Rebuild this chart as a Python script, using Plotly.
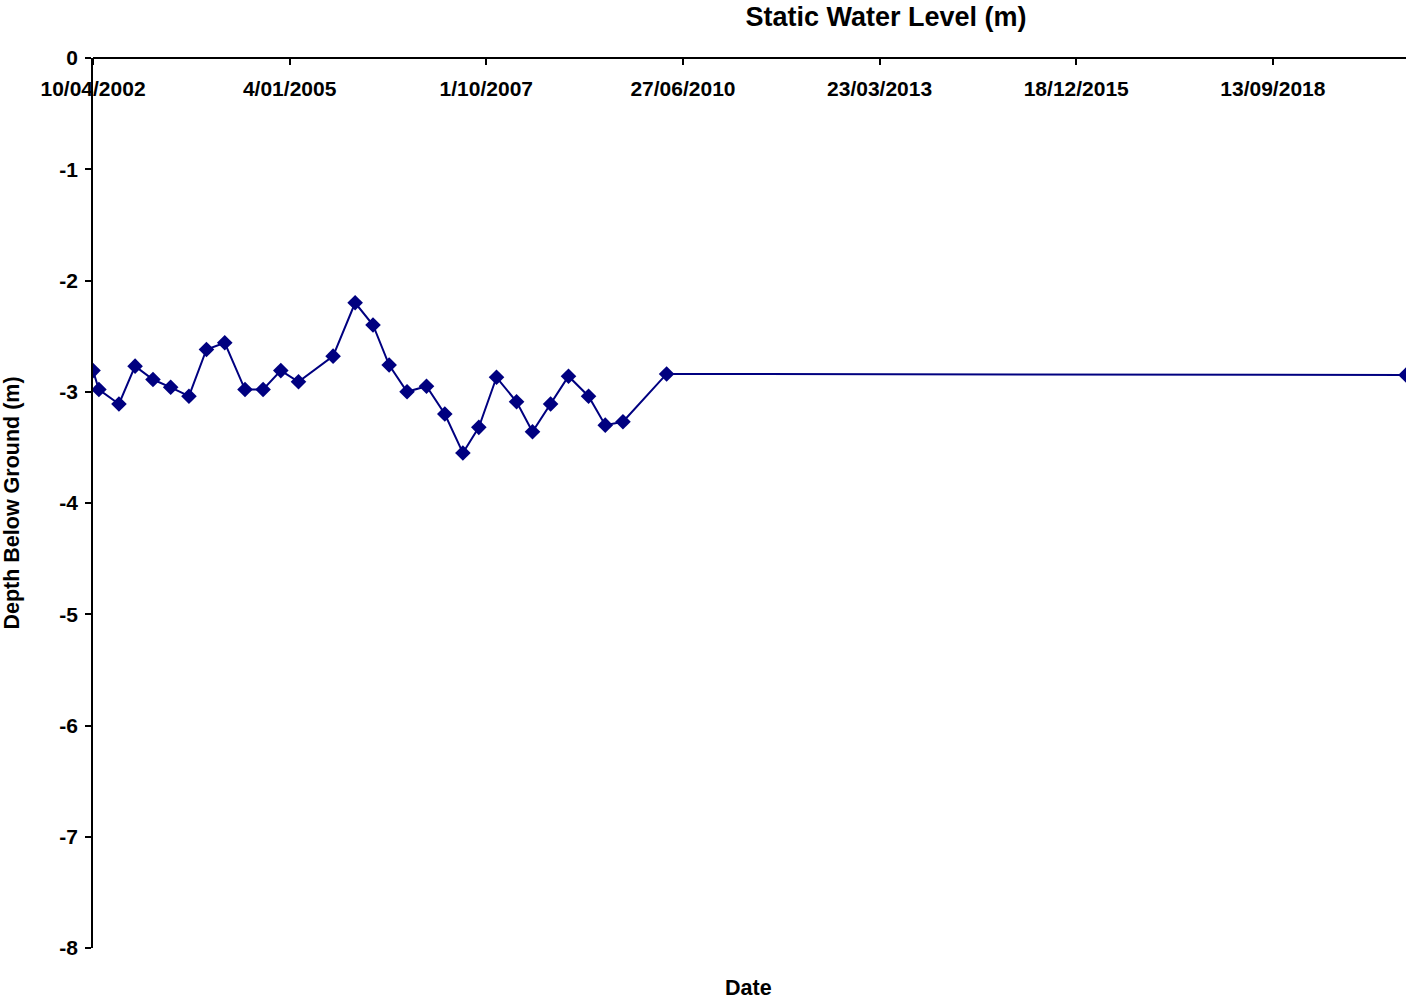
import plotly.graph_objects as go

dates = [
    "2002-04-10", "2002-05-10", "2002-08-20", "2002-11-10", "2003-02-09",
    "2003-05-10", "2003-08-11", "2003-11-08", "2004-02-09", "2004-05-22",
    "2004-08-22", "2004-11-20", "2005-02-18", "2005-08-13", "2005-12-03",
    "2006-03-04", "2006-05-25", "2006-08-24", "2006-12-01", "2007-03-04",
    "2007-06-04", "2007-08-24", "2007-11-22", "2008-03-03", "2008-05-23",
    "2008-08-23", "2008-11-22", "2009-03-04", "2009-05-28", "2009-08-26",
    "2010-04-05", "2020-07-21",
]
levels = [
    -2.81, -2.98, -3.11, -2.77, -2.89,
    -2.96, -3.04, -2.62, -2.56, -2.98,
    -2.98, -2.81, -2.91, -2.68, -2.20,
    -2.40, -2.76, -3.00, -2.95, -3.20,
    -3.55, -3.32, -2.87, -3.09, -3.36,
    -3.11, -2.86, -3.04, -3.30, -3.27,
    -2.84, -2.85,
]
tick_dates = ["2002-04-10", "2005-01-04", "2007-10-01", "2010-06-27",
              "2013-03-23", "2015-12-18", "2018-09-13"]
tick_labels = ["10/04/2002", "4/01/2005", "1/10/2007", "27/06/2010",
               "23/03/2013", "18/12/2015", "13/09/2018"]
y_ticks = [0, -1, -2, -3, -4, -5, -6, -7, -8]

FONT = "Arial, Liberation Sans, sans-serif"
NAVY = "#000080"

fig = go.Figure(go.Scatter(
    x=dates, y=levels, mode="lines+markers",
    line=dict(color=NAVY, width=2),
    marker=dict(symbol="diamond", size=12, color=NAVY),
))

fig.update_layout(
    width=1408, height=1002,
    margin=dict(l=93, r=2, t=58, b=54),
    paper_bgcolor="white", plot_bgcolor="white",
    showlegend=False,
    font=dict(family=FONT, color="black"),
    title=dict(text="<b>Static Water Level (m)</b>", x=886 / 1408, xanchor="center",
               yref="container", y=1 - 17 / 1002, yanchor="middle",
               font=dict(size=27, family=FONT)),
    xaxis=dict(
        type="date", side="bottom", anchor="free", position=1,
        range=[dates[0], dates[-1]],
        tickvals=tick_dates, ticktext=["<b>%s</b>" % t for t in tick_labels],
        ticks="outside", ticklen=6, tickcolor="black", tickwidth=1.5,
        ticklabelstandoff=6,
        tickfont=dict(size=21, family=FONT),
        showline=True, linecolor="black", linewidth=1.5,
        showgrid=False, zeroline=False, automargin=False,
    ),
    yaxis=dict(
        range=[-8, 0], tickvals=y_ticks,
        ticktext=["<b>%d</b>" % v for v in y_ticks],
        ticks="outside", ticklen=6, tickcolor="black", tickwidth=1.5,
        ticklabelstandoff=3,
        tickfont=dict(size=21, family=FONT),
        showline=True, linecolor="black", linewidth=1.5,
        showgrid=False, zeroline=False, automargin=False,
        title=dict(text="<b>Depth Below Ground (m)</b>", font=dict(size=21.5, family=FONT),
                   standoff=34),
    ),
    annotations=[dict(
        text="<b>Date</b>", x=(748 - 93) / 1313, y=(948 - 988) / 890,
        xref="paper", yref="paper",
        xanchor="center", yanchor="middle", showarrow=False,
        font=dict(size=21.5, family=FONT),
    )],
)

fig.write_html("out.html", config={"displayModeBar": False},
               post_script="document.body.style.margin='0';")
